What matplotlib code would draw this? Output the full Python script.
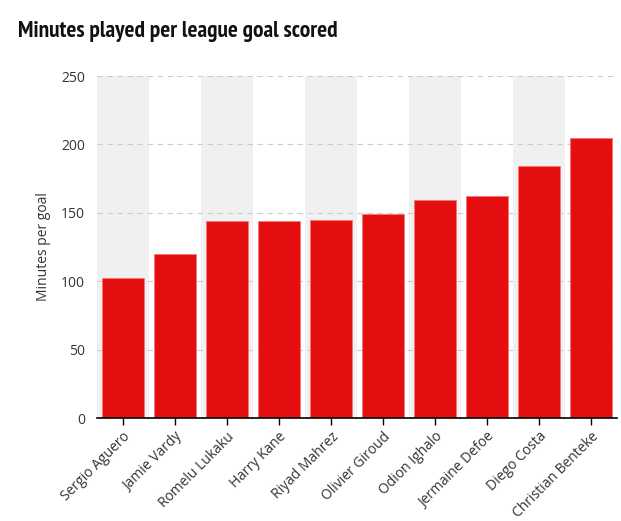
import matplotlib
matplotlib.use("Agg")
import matplotlib.pyplot as plt
from matplotlib import font_manager

players = ["Sergio Aguero", "Jamie Vardy", "Romelu Lukaku", "Harry Kane", "Riyad Mahrez",
           "Olivier Giroud", "Odion Ighalo", "Jermaine Defoe", "Diego Costa", "Christian Benteke"]
minutes = [102, 120, 144, 144, 145, 149, 159, 162, 184, 205]
yticks = [0, 50, 100, 150, 200, 250]

names = {f.name for f in font_manager.fontManager.ttflist}
title_font = next((f for f in ["PT Sans Narrow", "Roboto Condensed", "Open Sans Condensed"] if f in names), "DejaVu Sans")
plt.rcParams['font.family'] = ['Open Sans', 'DejaVu Sans']

fig = plt.figure(figsize=(6.21, 5.21), dpi=100)
ax = fig.add_axes([97/621, (521-418)/521, 520/621, 342/521])

n = len(players)
x = list(range(n))
for i in range(0, n, 2):
    ax.axvspan(i - 0.5, i + 0.5, color="#f0f0f0", zorder=0, lw=0)
for v in yticks[1:]:
    ax.axhline(v, color="#cccccc", ls=(0, (5, 4)), lw=0.8, zorder=1)
ax.bar(x, minutes, width=0.79, color="#e60f0f", edgecolor="#f27777", linewidth=0.6, zorder=2)

ax.set_xlim(-0.5, n - 0.5)
ax.set_ylim(0, 250)
ax.set_yticks(yticks)
ax.set_yticklabels([str(v) for v in yticks], fontsize=10, color="#333333")
ax.set_xticks(x)
ax.set_xticklabels(players, rotation=45, ha="right", rotation_mode="anchor", fontsize=10, color="#333333")
ax.tick_params(axis="y", length=0, pad=8.6)
ax.tick_params(axis="x", length=5, width=1, color="black", pad=3)
for s in ["top", "right", "left"]:
    ax.spines[s].set_visible(False)
ax.spines["bottom"].set_color("black")
ax.spines["bottom"].set_linewidth(1.2)
ax.set_ylabel("Minutes per goal", fontsize=10, color="#333333", labelpad=7)

fig.text(18/621, 1 - 37/521, "Minutes played per league goal scored", fontsize=16.8,
         fontweight="bold", family=title_font, va="baseline", ha="left", color="#111111")

fig.savefig("out.png", dpi=100)
